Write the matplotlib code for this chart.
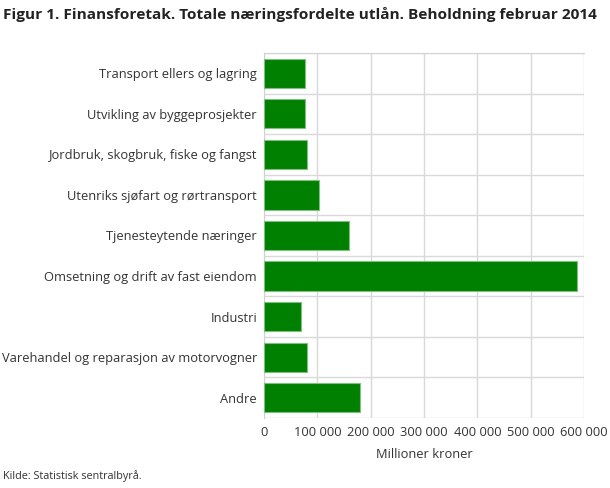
import matplotlib.pyplot as plt
from matplotlib.ticker import FuncFormatter, FixedLocator
import numpy as np

plt.rcParams['font.family'] = ['Open Sans', 'DejaVu Sans']

categories = [
    "Transport ellers og lagring",
    "Utvikling av byggeprosjekter",
    "Jordbruk, skogbruk, fiske og fangst",
    "Utenriks sjøfart og rørtransport",
    "Tjenesteytende næringer",
    "Omsetning og drift av fast eiendom",
    "Industri",
    "Varehandel og reparasjon av motorvogner",
    "Andre",
]
values = [77200, 77800, 81000, 102800, 159500, 586300, 69800, 79800, 180000]
xticks = [0, 100000, 200000, 300000, 400000, 500000, 600000]

fig = plt.figure(figsize=(6.1, 4.88), dpi=100)
ax = fig.add_axes([264 / 610, 70 / 488, 320 / 610, 365 / 488])

y = np.arange(len(categories))
ax.barh(y, values, height=0.72, color='#008000', edgecolor='#7fbf7f',
        linewidth=0.8, zorder=3)

ax.set_ylim(len(categories) - 0.5, -0.5)
ax.set_xlim(0, 600000)
ax.set_yticks(y)
ax.set_yticklabels(categories)
ax.yaxis.set_minor_locator(FixedLocator(np.arange(-0.5, len(categories), 1)))
ax.set_xticks(xticks)
ax.xaxis.set_major_formatter(FuncFormatter(lambda v, p: f"{int(v):,}".replace(",", " ")))

ax.grid(axis='x', which='major', color='#d9d9d9', linewidth=1, zorder=0)
ax.grid(axis='y', which='minor', color='#d9d9d9', linewidth=1, zorder=0)
ax.tick_params(axis='both', which='both', length=0, labelsize=9.25, colors='#333333')
ax.tick_params(axis='y', pad=5)
ax.tick_params(axis='x', pad=6)

for s in ['right', 'bottom']:
    ax.spines[s].set_visible(False)
ax.spines['top'].set_color('#ccd6cc')
ax.spines['left'].set_color('#ccd6cc')

ax.set_xlabel("Millioner kroner", fontsize=9.25, color='#333333', labelpad=6)

fig.text(0.005, 0.962, "Figur 1. Finansforetak. Totale næringsfordelte utlån. Beholdning februar 2014",
         fontsize=11.1, fontweight='bold', color='#222222', va='baseline')
fig.text(0.005, 0.018, "Kilde: Statistisk sentralbyrå.", fontsize=7.8, color='#333333')

fig.savefig('out.png', dpi=100)
